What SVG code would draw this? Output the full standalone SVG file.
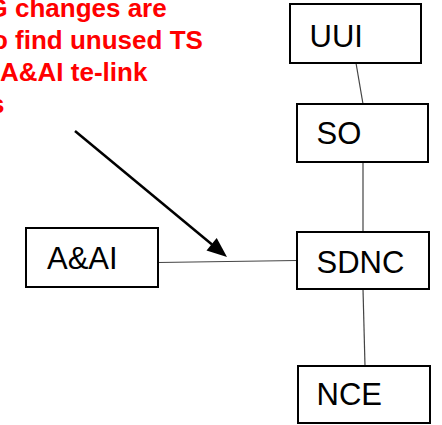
<svg xmlns="http://www.w3.org/2000/svg" width="442" height="425" viewBox="0 0 442 425">
<style>
.box{fill:#fff;stroke:#000;stroke-width:2}
.lbl{font-family:"Liberation Sans",Arial,sans-serif;font-size:31px;fill:#000}
.note{font-family:"Liberation Sans",Arial,sans-serif;font-size:26px;font-weight:bold;fill:#ff0000}
.conn{stroke:#444;stroke-width:1.2;fill:none}
</style>
<rect width="442" height="425" fill="#fff"/>
<g id="connectors">
<line class="conn" x1="356" y1="63" x2="363" y2="104"/>
<line class="conn" x1="363" y1="162" x2="363" y2="232"/>
<line class="conn" x1="363" y1="289" x2="365" y2="366"/>
<line class="conn" x1="158" y1="262.5" x2="297" y2="260.5"/>
<line x1="75" y1="131" x2="212" y2="244.5" stroke="#000" stroke-width="2.5"/>
<polygon points="227,257 206.5,250.4 216.7,238" fill="#000"/>
</g>
<g id="note">
<text class="note" x="-12.5" y="17">G changes are</text>
<text class="note" x="-8" y="49">o find unused TS</text>
<text class="note" x="0" y="81">A&amp;AI te-link</text>
<text class="note" x="-10" y="113">s</text>
</g>
<g id="uui"><rect class="box" x="290" y="4" width="131" height="59"/><text class="lbl" x="309.5" y="47">UUI</text></g>
<g id="so"><rect class="box" x="297" y="104" width="131" height="58"/><text class="lbl" x="316.5" y="144">SO</text></g>
<g id="sdnc"><rect class="box" x="297" y="232" width="132" height="57"/><text class="lbl" x="316.5" y="272.5">SDNC</text></g>
<g id="nce"><rect class="box" x="298" y="366" width="132" height="57"/><text class="lbl" x="316.5" y="405">NCE</text></g>
<g id="aai"><rect class="box" x="26" y="228" width="132" height="59"/><text class="lbl" x="47" y="269">A&amp;AI</text></g>
</svg>
